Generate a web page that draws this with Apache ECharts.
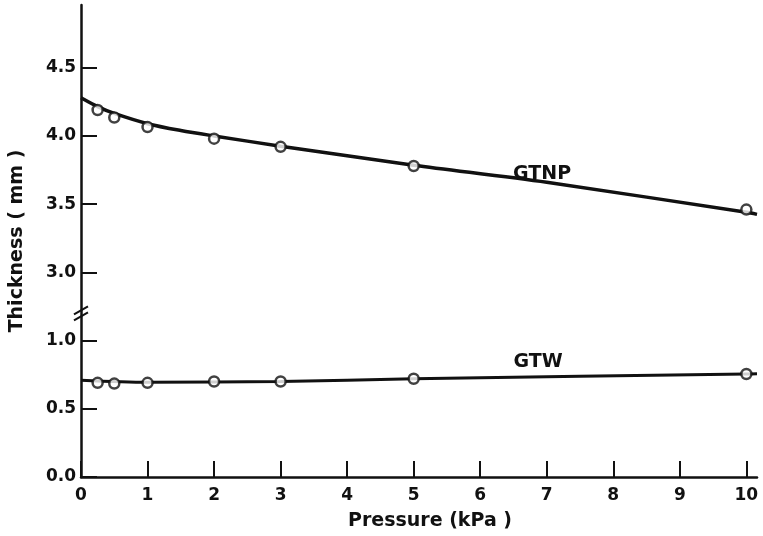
<!DOCTYPE html>
<html>
<head>
<meta charset="utf-8">
<script src="https://cdn.jsdelivr.net/npm/echarts@6/dist/echarts.min.js"></script>
<style>
  html, body { margin: 0; padding: 0; background: #fff; }
  #chart { width: 763px; height: 536px; }
</style>
</head>
<body>
<div id="chart"></div>
<script>
// Measured points (pressure in kPa, thickness in mm)
const pressure = [0.25, 0.5, 1, 2, 3, 5, 10];
const gtnpThickness = [4.19, 4.135, 4.065, 3.98, 3.92, 3.78, 3.46];
const gtwThickness = [0.69, 0.685, 0.69, 0.70, 0.70, 0.72, 0.755];

// Drawn trend curves
const gtnpCurvePressure = [0, 0.25, 0.5, 1, 1.5, 2, 3, 4, 5, 7, 10, 10.16];
const gtnpCurveThickness = [4.28, 4.215, 4.165, 4.09, 4.04, 4.0, 3.925, 3.855, 3.785, 3.66, 3.44, 3.425];
const gtwCurvePressure = [0, 1, 3, 5, 10, 10.16];
const gtwCurveThickness = [0.71, 0.695, 0.70, 0.72, 0.755, 0.757];

// Axis ticks
const xTicks = [0, 1, 2, 3, 4, 5, 6, 7, 8, 9, 10];
const yTicksLower = [0.0, 0.5, 1.0];
const yTicksUpper = [3.0, 3.5, 4.0, 4.5];

// Series names shown next to the curves, with their anchor (pressure, thickness)
const seriesNames = ['GTNP', 'GTW'];
const nameAnchors = [[6.93, 3.72], [6.87, 0.84]];

// The y axis is broken between 1.0 and 3.0: the upper part is shifted down by 1.5
const BREAK_SHIFT = 1.5;
const toAxis = v => (v >= 2 ? v - BREAK_SHIFT : v);
const fromAxis = t => (t > 1.25 ? t + BREAK_SHIFT : t);

const pairs = (xs, ys) => xs.map((x, i) => [x, toAxis(ys[i])]);

const INK = '#111111';
const FONT = 'DejaVu Sans';

const tickSet = new Set(
  yTicksLower.map(v => toAxis(v).toFixed(2)).concat(yTicksUpper.map(v => toAxis(v).toFixed(2)))
);

const chart = echarts.init(document.getElementById('chart'), null, { renderer: 'canvas' });

const option = {
  backgroundColor: '#ffffff',
  animation: false,
  grid: { left: 76, right: 6, top: 5, bottom: 56, containLabel: false },
  xAxis: {
    type: 'value',
    min: xTicks[0],
    max: 10.16,
    interval: 1,
    name: 'Pressure (kPa )',
    nameLocation: 'middle',
    nameGap: 35,
    nameTextStyle: {
      color: INK, fontFamily: FONT, fontWeight: 'bold', fontSize: 19,
      padding: [0, 0, 0, 22]
    },
    axisLine: { show: true, onZero: false, lineStyle: { color: INK, width: 2.5 } },
    axisTick: { show: true, inside: true, length: 16, lineStyle: { color: INK, width: 2 } },
    axisLabel: {
      color: INK, fontFamily: FONT, fontWeight: 'bold', fontSize: 17, margin: 10,
      showMaxLabel: false,
      formatter: v => (xTicks.includes(v) ? String(v) : '')
    },
    splitLine: { show: false }
  },
  yAxis: {
    type: 'value',
    min: 0,
    max: 3.46,
    interval: 0.5,
    name: 'Thickness ( mm )',
    nameLocation: 'middle',
    nameGap: 54,
    nameTextStyle: { color: INK, fontFamily: FONT, fontWeight: 'bold', fontSize: 19 },
    axisLine: { show: true, onZero: false, lineStyle: { color: INK, width: 2.5 } },
    axisTick: { show: true, inside: true, length: 16, lineStyle: { color: INK, width: 2 } },
    axisLabel: {
      color: INK, fontFamily: FONT, fontWeight: 'bold', fontSize: 17, margin: 5,
      showMaxLabel: false,
      formatter: t => (tickSet.has(t.toFixed(2)) ? fromAxis(t).toFixed(1) : '')
    },
    splitLine: { show: false }
  },
  series: [
    {
      name: 'GTNP curve',
      type: 'line',
      data: pairs(gtnpCurvePressure, gtnpCurveThickness),
      smooth: 0.3,
      showSymbol: false,
      lineStyle: { color: INK, width: 3.5 },
      z: 2
    },
    {
      name: 'GTW curve',
      type: 'line',
      data: pairs(gtwCurvePressure, gtwCurveThickness),
      smooth: 0.3,
      showSymbol: false,
      lineStyle: { color: INK, width: 3 },
      z: 2
    },
    {
      name: 'GTNP',
      type: 'scatter',
      data: pairs(pressure, gtnpThickness),
      symbol: 'circle',
      symbolSize: 10,
      itemStyle: { color: '#ffffff', borderColor: INK, borderWidth: 2.5 },
      z: 3
    },
    {
      name: 'GTW',
      type: 'scatter',
      data: pairs(pressure, gtwThickness),
      symbol: 'circle',
      symbolSize: 10,
      itemStyle: { color: '#ffffff', borderColor: INK, borderWidth: 2.5 },
      z: 3
    }
  ]
};

chart.setOption(option);

// Series names and the axis-break marks, placed through the chart's own scales
const graphics = seriesNames.map((name, i) => {
  const p = chart.convertToPixel({ gridIndex: 0 }, [nameAnchors[i][0], toAxis(nameAnchors[i][1])]);
  return {
    type: 'text',
    x: p[0],
    y: p[1],
    style: {
      text: name,
      fill: INK,
      font: 'bold 19px "' + FONT + '"',
      align: 'center',
      verticalAlign: 'middle'
    },
    z: 10
  };
});

const breakPt = chart.convertToPixel({ gridIndex: 0 }, [0, 1.2]);
[-3, 3].forEach(dy => {
  graphics.push({
    type: 'line',
    shape: { x1: breakPt[0] - 7, y1: breakPt[1] + dy + 4, x2: breakPt[0] + 7, y2: breakPt[1] + dy - 4 },
    style: { stroke: INK, lineWidth: 2 },
    z: 10
  });
});

chart.setOption({ graphic: graphics });
</script>
</body>
</html>
